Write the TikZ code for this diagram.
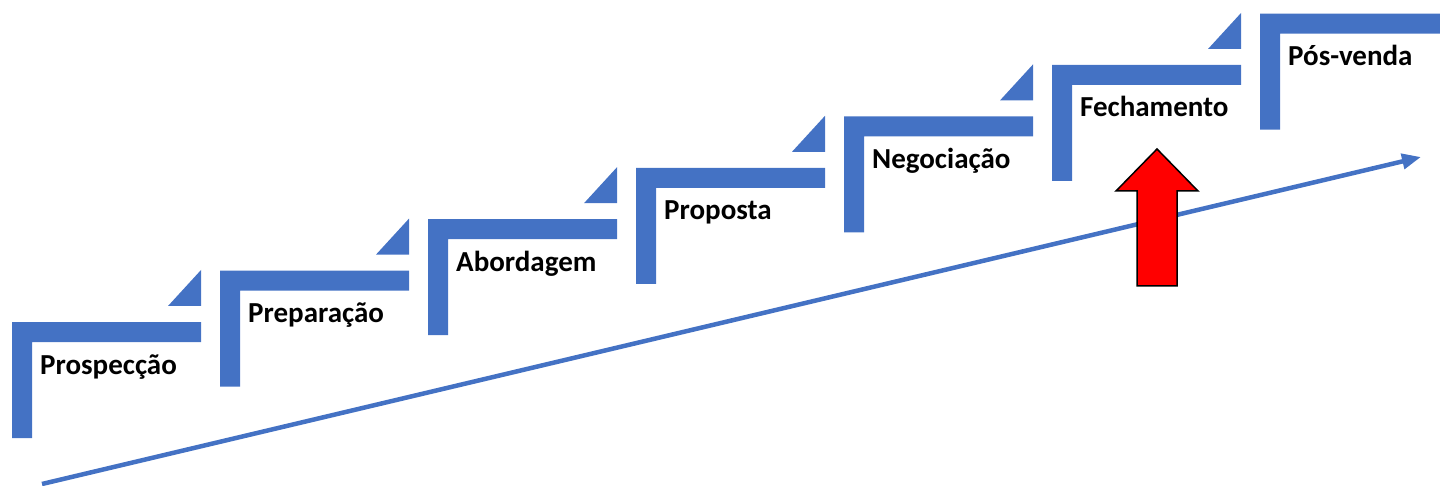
\documentclass[tikz,border=0pt]{standalone}
\usepackage{fontspec}
\setmainfont{Carlito}
\usetikzlibrary{arrows.meta}
\definecolor{stepblue}{HTML}{4472C4}

\tikzset{
  steplabel/.style={anchor=base west, inner sep=0pt, font=\fontsize{29}{34}\selectfont\bfseries},
  stepbar/.style={fill=stepblue},
}

\begin{document}
\begin{tikzpicture}[x=1pt,y=-1pt]
  \useasboundingbox (0,0) rectangle (1440,486);
  % Stairs: one L-shaped step per phase, with a small wedge leading to the next.
  \foreach \i/\name in {0/Prospecção,1/Preparação,2/Abordagem,3/Proposta,4/Negociação,5/Fechamento,6/Pós-venda} {
    \pgfmathsetmacro\sx{12+208*\i}
    \pgfmathsetmacro\sy{322-51.4*\i}
    \fill[stepbar] (\sx,\sy) -- (\sx+189,\sy) -- (\sx+189,\sy+20) -- (\sx+20,\sy+20)
      -- (\sx+20,\sy+116) -- (\sx,\sy+116) -- cycle;
    \ifnum\i<6
      \fill[stepbar] (\sx+156,\sy-16) -- (\sx+189,\sy-16) -- (\sx+189,\sy-52) -- cycle;
    \fi
    \node[steplabel] (step\i) at (\sx+28,\sy+52) {\name};
  }
  % Growth arrow under the stairs.
  \coordinate (grow start) at (42,484);
  \coordinate (grow end) at (1421,157);
  \draw[stepblue, line width=4.5pt, -{Triangle[length=19pt,width=15pt]}] (grow start) -- (grow end);
  % Red marker under Fechamento.
  \filldraw[fill=red, draw=black, line width=1.5pt] (1157,149) -- (1198,191) -- (1177,191)
    -- (1177,286) -- (1137,286) -- (1137,191) -- (1116,191) -- cycle;
\end{tikzpicture}
\end{document}
